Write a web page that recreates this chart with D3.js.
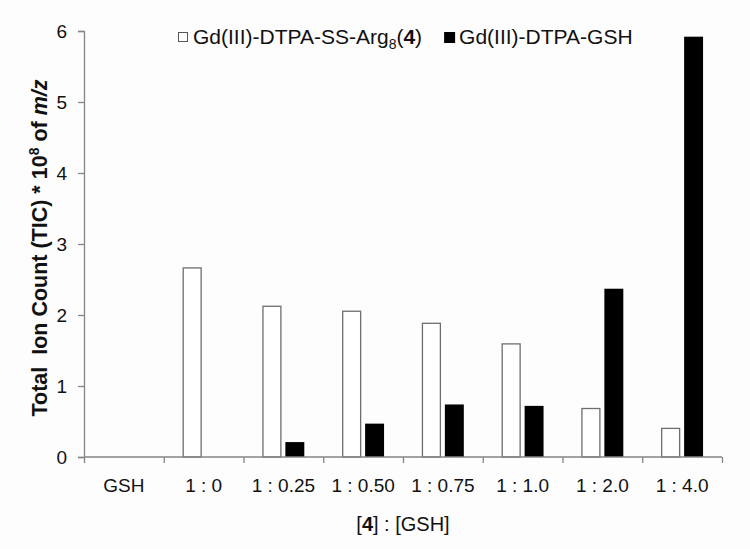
<!DOCTYPE html>
<html>
<head>
<meta charset="utf-8">
<script src="https://cdn.jsdelivr.net/npm/d3@7/dist/d3.min.js"></script>
<style>
  html, body { margin: 0; padding: 0; background: #fdfdfd; }
  svg { display: block; }
  text { font-family: "Liberation Sans", Arial, sans-serif; fill: #111; }
</style>
</head>
<body>
<svg id="chart" width="750" height="549"></svg>
<script>
const categories = ["GSH", "1 : 0", "1 : 0.25", "1 : 0.50", "1 : 0.75", "1 : 1.0", "1 : 2.0", "1 : 4.0"];
const seriesNames = ["Gd(III)-DTPA-SS-Arg8(4)", "Gd(III)-DTPA-GSH"];
const argValues = [0, 2.67, 2.13, 2.06, 1.89, 1.60, 0.69, 0.41];
const gshValues = [0, 0, 0.21, 0.47, 0.74, 0.72, 2.37, 5.92];
const yTicks = [0, 1, 2, 3, 4, 5, 6];

(function () {
const svg = d3.select("#chart");
const mLeft = 84, mRight = 722, mTop = 31, mBottom = 457;
const axisColor = "#858585";

const x = d3.scaleBand().domain(categories).range([mLeft, mRight]).padding(0);
const x1 = d3.scaleBand().domain(seriesNames).range([0, x.bandwidth()])
  .paddingInner(0.174).paddingOuter(0.826);
const y = d3.scaleLinear().domain([0, 6]).range([mBottom, mTop]);

const data = categories.map((c, i) => ({ cat: c, vals: [argValues[i], gshValues[i]] }));

// bars
const groups = svg.append("g").selectAll("g").data(data).join("g")
  .attr("transform", d => `translate(${x(d.cat)},0)`);
groups.selectAll("rect").data(d => d.vals.map((v, j) => ({ s: seriesNames[j], v, j })).filter(e => e.v > 0))
  .join("rect")
  .attr("x", d => x1(d.s) + (d.j === 0 ? 0.5 : 0))
  .attr("y", d => y(d.v) + (d.j === 0 ? 0.5 : 0))
  .attr("width", d => x1.bandwidth() - (d.j === 0 ? 1 : 0))
  .attr("height", d => y(0) - y(d.v) - (d.j === 0 ? 0.5 : 0))
  .attr("fill", d => d.j === 0 ? "#ffffff" : "#000000")
  .attr("stroke", d => d.j === 0 ? "#6e6e6e" : "none")
  .attr("stroke-width", 1.3);

// y axis
const yAxis = svg.append("g").attr("transform", `translate(${mLeft},0)`)
  .call(d3.axisLeft(y).tickValues(yTicks).tickSize(6).tickPadding(11).tickFormat(d3.format("d")));
yAxis.selectAll("path, line").attr("stroke", axisColor).attr("stroke-width", 1.3);
yAxis.selectAll("text").style("font-size", "19px").attr("fill", "#111")
  .style("font-family", '"Liberation Sans", Arial, sans-serif');

// x axis tick marks at band boundaries
const xt = d3.scaleLinear().domain([0, categories.length]).range([mLeft, mRight]);
const xAxisTicks = svg.append("g").attr("transform", `translate(0,${mBottom})`)
  .call(d3.axisBottom(xt).ticks(categories.length).tickSize(6).tickFormat(""));
xAxisTicks.selectAll("path, line").attr("stroke", axisColor).attr("stroke-width", 1.3);
xAxisTicks.select("path").attr("d", `M${mLeft},0H${mRight}`);

// x labels
const xAxisLabels = svg.append("g").attr("transform", `translate(0,${mBottom})`)
  .call(d3.axisBottom(x).tickSize(0).tickPadding(22));
xAxisLabels.select("path").remove();
xAxisLabels.selectAll("text").style("font-size", "19px").attr("fill", "#111")
  .style("font-family", '"Liberation Sans", Arial, sans-serif');

// x title
const xt2 = svg.append("text").attr("x", (mLeft + mRight) / 2).attr("y", 531)
  .attr("text-anchor", "middle").style("font-size", "20px");
xt2.append("tspan").text("[");
xt2.append("tspan").attr("font-weight", "bold").text("4");
xt2.append("tspan").text("] : [GSH]");

// y title
const yt = svg.append("text")
  .attr("transform", `translate(47,${(mTop + mBottom) / 2 + 4}) rotate(-90)`)
  .attr("text-anchor", "middle").attr("font-weight", "bold").style("font-size", "21.5px")
  .style("white-space", "pre");
yt.append("tspan").text("Total  Ion Count (TIC) * 10");
yt.append("tspan").attr("dy", -8).style("font-size", "14px").text("8");
yt.append("tspan").attr("dy", 8).text(" of ");
yt.append("tspan").attr("font-style", "italic").text("m/z");

// legend
const leg = svg.append("g").attr("transform", "translate(178,0)");
leg.append("rect").attr("x", 0.5).attr("y", 32.5).attr("width", 9).attr("height", 9)
  .attr("fill", "#fff").attr("stroke", "#555").attr("stroke-width", 1);
const l1 = leg.append("text").attr("x", 15).attr("y", 44).style("font-size", "21px");
l1.append("tspan").text("Gd(III)-DTPA-SS-Arg");
l1.append("tspan").attr("dy", 5).style("font-size", "14px").text("8");
l1.append("tspan").attr("dy", -5).text("(");
l1.append("tspan").attr("font-weight", "bold").text("4");
l1.append("tspan").text(")");
const l1w = l1.node().getComputedTextLength();
const bx = 15 + l1w + 22;
leg.append("rect").attr("x", bx).attr("y", 32).attr("width", 11).attr("height", 11).attr("fill", "#000");
leg.append("text").attr("x", bx + 15).attr("y", 44).style("font-size", "21px").text("Gd(III)-DTPA-GSH");
})();
</script>
</body>
</html>
